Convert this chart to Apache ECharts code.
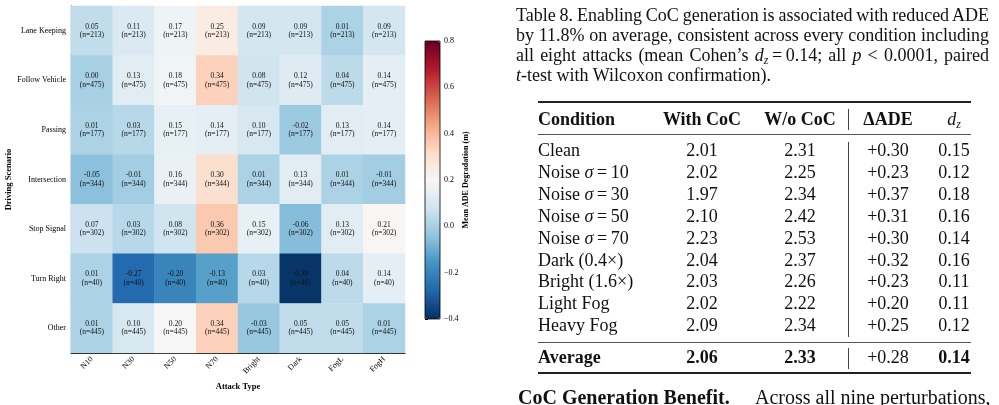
<!DOCTYPE html>
<html>
<head>
<meta charset="utf-8">
<script src="https://cdn.jsdelivr.net/npm/echarts@6/dist/echarts.min.js"></script>
<style>
  body { margin: 0; background: #fff; }
  #page { position: relative; width: 999px; height: 405px; overflow: hidden; font-family: 'Liberation Serif', serif; color: #111; }
  #chart { position: absolute; left: 0; top: 0; width: 999px; height: 405px; }
  .line { position: absolute; left: 516px; width: 473px; font-size: 18px; line-height: 20px; word-spacing: -2px; text-align: justify; text-align-last: justify; }
  .last { text-align-last: left; word-spacing: 0; }
  .cell { position: absolute; font-size: 18px; height: 22px; line-height: 22px; white-space: nowrap; }
  .rule { position: absolute; left: 538px; width: 433px; background: #222; }
  .vrule { position: absolute; left: 848px; width: 1px; background: #444; }
  .para { position: absolute; font-size: 20px; line-height: 22px; white-space: nowrap; }
  sub { font-size: 12px; vertical-align: -3px; line-height: 0; }
</style>
</head>
<body>
<div id="page">
  <div id="chart"></div>
  <div id="table"></div>
</div>
<script>
// heatmap data
const attacks = ['N10', 'N30', 'N50', 'N70', 'Bright', 'Dark', 'FogL', 'FogH'];
const scenarios = ['Lane Keeping', 'Follow Vehicle', 'Passing', 'Intersection', 'Stop Signal', 'Turn Right', 'Other'];
const sampleCounts = [213, 475, 177, 344, 302, 40, 445];

const laneKeeping   = [0.05, 0.11, 0.17, 0.25, 0.09, 0.09, 0.01, 0.09];
const followVehicle = [0.00, 0.13, 0.18, 0.34, 0.08, 0.12, 0.04, 0.14];
const passing       = [0.01, 0.03, 0.15, 0.14, 0.10, -0.02, 0.13, 0.14];
const intersection  = [-0.05, -0.01, 0.16, 0.30, 0.01, 0.13, 0.01, -0.01];
const stopSignal    = [0.07, 0.03, 0.08, 0.36, 0.15, -0.06, 0.13, 0.21];
const turnRight     = [0.01, -0.27, -0.20, -0.13, 0.03, -0.39, 0.04, 0.14];
const other         = [0.01, 0.10, 0.20, 0.34, -0.03, 0.05, 0.05, 0.01];
const degradation = [laneKeeping, followVehicle, passing, intersection, stopSignal, turnRight, other];

// table data
const conditions = ['Clean', 'Noise σ = 10', 'Noise σ = 30', 'Noise σ = 50', 'Noise σ = 70',
  'Dark (0.4×)', 'Bright (1.6×)', 'Light Fog', 'Heavy Fog'];
const withCoc  = [2.01, 2.02, 1.97, 2.10, 2.23, 2.04, 2.03, 2.02, 2.09];
const woCoc    = [2.31, 2.25, 2.34, 2.42, 2.53, 2.37, 2.26, 2.22, 2.34];
const deltaAde = [0.30, 0.23, 0.37, 0.31, 0.30, 0.32, 0.23, 0.20, 0.25];
const effectDz = [0.15, 0.12, 0.18, 0.16, 0.14, 0.16, 0.11, 0.11, 0.12];
const average  = [2.06, 2.33, 0.28, 0.14];

const rdbuR = ['#053061', '#2166ac', '#4393c3', '#92c5de', '#d1e5f0', '#f7f7f7',
  '#fddbc7', '#f4a582', '#d6604d', '#b2182b', '#67001f'];

const cells = [];
degradation.forEach((row, y) => row.forEach((v, x) => cells.push([x, y, v])));

const chart = echarts.init(document.getElementById('chart'));
chart.setOption({
  animation: false,
  textStyle: { fontFamily: 'Liberation Serif' },
  grid: [
    { left: 71, top: 6, width: 334, height: 347 },
    { left: 425, top: 41, width: 15, height: 278, show: true, borderColor: '#000', borderWidth: 0.8, backgroundColor: 'transparent', z: 10 }
  ],
  xAxis: [
    {
      type: 'category', gridIndex: 0, data: attacks,
      name: 'Attack Type', nameLocation: 'middle', nameGap: 27,
      nameTextStyle: { fontWeight: 'bold', fontSize: 8.5, color: '#000' },
      axisLine: { lineStyle: { color: '#000', width: 1.2 } },
      axisTick: { alignWithLabel: true, length: 3.5, lineStyle: { color: '#000' } },
      axisLabel: { rotate: 45, fontSize: 8, color: '#000', margin: 5, interval: 0 },
      splitArea: { show: false }
    },
    { type: 'value', gridIndex: 1, show: false, min: 0, max: 1 }
  ],
  yAxis: [
    {
      type: 'category', gridIndex: 0, data: scenarios, inverse: true,
      name: 'Driving Scenario', nameLocation: 'middle', nameGap: 58, nameRotate: 90,
      nameTextStyle: { fontWeight: 'bold', fontSize: 8.5, color: '#000' },
      axisLine: { lineStyle: { color: '#000', width: 1.2 } },
      axisTick: { alignWithLabel: true, length: 3.5, lineStyle: { color: '#000' } },
      axisLabel: { fontSize: 8, color: '#000', margin: 5, interval: 0 },
      splitArea: { show: false }
    },
    {
      type: 'value', gridIndex: 1, position: 'right',
      min: -0.4, max: 0.8, interval: 0.2,
      name: 'Mean ADE Degradation (m)', nameLocation: 'middle', nameGap: 22, nameRotate: 90,
      nameTextStyle: { fontWeight: 'bold', fontSize: 8, color: '#000' },
      axisLine: { show: false },
      axisTick: { show: true, length: 3, lineStyle: { color: '#000' } },
      axisLabel: { fontSize: 8, color: '#000', margin: 4,
        formatter: v => v.toFixed(1).replace('-', '\u2212') },
      splitLine: { show: false }
    }
  ],
  visualMap: {
    type: 'continuous', seriesIndex: 0, min: -0.4, max: 0.8,
    orient: 'vertical', left: 425, top: 41, itemWidth: 15, itemHeight: 278,
    padding: 0, calculable: false, hoverLink: false,
    inRange: { color: rdbuR }
  },
  series: [
    {
      type: 'heatmap', xAxisIndex: 0, yAxisIndex: 0, data: cells,
      label: {
        show: true, fontSize: 7.5, lineHeight: 8.5, color: '#111',
        formatter: p => p.data[2].toFixed(2) + '\n(n=' + sampleCounts[p.data[1]] + ')'
      },
      emphasis: { disabled: true }
    },
    { type: 'scatter', xAxisIndex: 1, yAxisIndex: 1, data: [] }
  ]
});

// caption + table as real text
const page = document.getElementById('table');
const add = (cls, style, html) => {
  const d = document.createElement('div');
  d.className = cls;
  Object.assign(d.style, style);
  d.innerHTML = html;
  page.appendChild(d);
  return d;
};

const captionLines = [
  'Table 8. Enabling CoC generation is associated with reduced ADE',
  'by 11.8% on average, consistent across every condition including',
  'all eight attacks (mean Cohen’s <i>d</i><sub><i>z</i></sub>&thinsp;=&thinsp;0.14; all <i>p</i> &lt; 0.0001, paired',
  '<i>t</i>-test with Wilcoxon confirmation).'
];
captionLines.forEach((t, i) => add(i === 3 ? 'line last' : 'line', { top: (5 + i * 20) + 'px' }, t));

const colX = { cond: 538, withC: 702, woC: 800, delta: 888, dz: 954 };
const cell = (x, yc, html, align, bold) => {
  const s = { top: (yc - 11) + 'px' };
  if (align === 'left') s.left = x + 'px';
  else { s.left = (x - 60) + 'px'; s.width = '120px'; s.textAlign = 'center'; }
  if (bold) s.fontWeight = 'bold';
  add('cell', s, html);
};
const condHtml = t => t.replace('σ', '<i>σ</i>').replace(' = ', '&thinsp;=&thinsp;');

// header
add('rule', { top: '101px', height: '1.5px' }, '');
cell(colX.cond, 119, 'Condition', 'left', true);
cell(colX.withC, 119, 'With CoC', 'center', true);
cell(colX.woC, 119, 'W/o CoC', 'center', true);
cell(colX.delta, 119, 'ΔADE', 'center', true);
cell(colX.dz, 119, '<i>d</i><sub><i>z</i></sub>', 'center', false);
add('rule', { top: '134px', height: '1px', background: '#555' }, '');
add('vrule', { top: '109px', height: '21px' }, '');

conditions.forEach((c, i) => {
  const yc = 150 + i * 21.9;
  cell(colX.cond, yc, condHtml(c), 'left');
  cell(colX.withC, yc, withCoc[i].toFixed(2), 'center');
  cell(colX.woC, yc, woCoc[i].toFixed(2), 'center');
  cell(colX.delta, yc, '+' + deltaAde[i].toFixed(2), 'center');
  cell(colX.dz, yc, effectDz[i].toFixed(2), 'center');
});
add('vrule', { top: '142px', height: '195px' }, '');
add('rule', { top: '342px', height: '1px', background: '#555' }, '');

cell(colX.cond, 357, 'Average', 'left', true);
cell(colX.withC, 357, average[0].toFixed(2), 'center', true);
cell(colX.woC, 357, average[1].toFixed(2), 'center', true);
cell(colX.delta, 357, '+' + average[2].toFixed(2), 'center', false);
cell(colX.dz, 357, average[3].toFixed(2), 'center', true);
add('vrule', { top: '348px', height: '21px' }, '');
add('rule', { top: '372px', height: '1.5px' }, '');

add('para', { top: '386px', left: '518px', fontWeight: 'bold' }, 'CoC Generation Benefit.');
add('para', { top: '386px', left: '755px' }, 'Across all nine perturbations,');
</script>
</body>
</html>
